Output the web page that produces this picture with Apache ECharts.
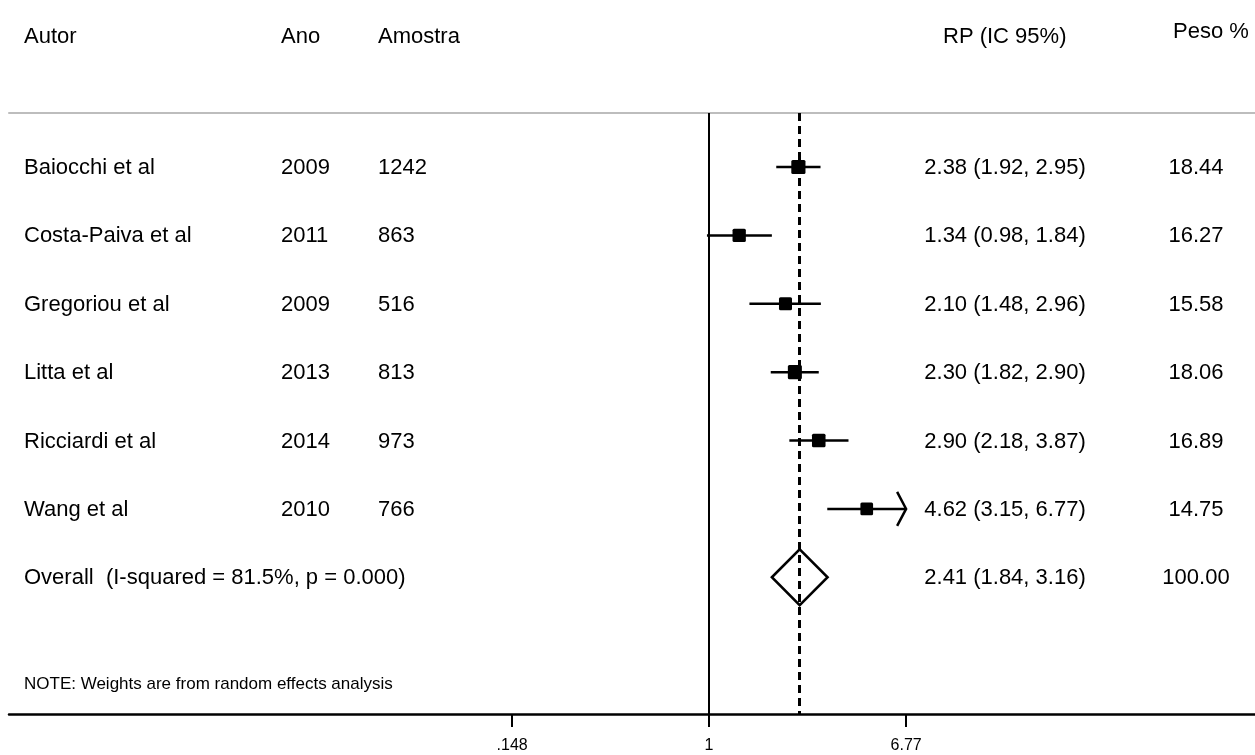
<!DOCTYPE html>
<html>
<head>
<meta charset="utf-8">
<script src="https://cdn.jsdelivr.net/npm/echarts@6/dist/echarts.min.js"></script>
<style>html,body{margin:0;padding:0;background:#fff}#c{width:1255px;height:755px}</style>
</head>
<body>
<div id="c"></div>
<script>
// ---- data ----
const authors = ['Baiocchi et al','Costa-Paiva et al','Gregoriou et al','Litta et al','Ricciardi et al','Wang et al'];
const years = ['2009','2011','2009','2013','2014','2010'];
const samples = ['1242','863','516','813','973','766'];
const rpEst = [2.38, 1.34, 2.10, 2.30, 2.90, 4.62];
const rpLow = [1.92, 0.98, 1.48, 1.82, 2.18, 3.15];
const rpHigh = [2.95, 1.84, 2.96, 2.90, 3.87, 6.77];
const weights = [18.44, 16.27, 15.58, 18.06, 16.89, 14.75];
const overallLabel = 'Overall  (I-squared = 81.5%, p = 0.000)';
const overallEst = 2.41, overallLow = 1.84, overallHigh = 3.16, overallWeight = 100.00;
const tickValues = [0.148, 1, 6.77];
const tickLabels = ['.148', '1', '6.77'];
const headers = ['Autor', 'Ano', 'Amostra', 'RP (IC 95%)', 'Peso %'];
const noteText = 'NOTE: Weights are from random effects analysis';

const FONT = "'Liberation Sans', Arial, Helvetica, sans-serif";
const ln = Math.log;
const fmt2 = v => v.toFixed(2);
const rpText = (e, l, h) => fmt2(e) + ' (' + fmt2(l) + ', ' + fmt2(h) + ')';
const maxTick = Math.max.apply(null, tickValues);

const studyData = rpEst.map((e, i) => [ln(rpLow[i]), ln(e), ln(Math.min(rpHigh[i], maxTick)), i, weights[i], rpHigh[i] >= maxTick ? 1 : 0]);
const overallRow = authors.length;
const overallData = [[ln(overallLow), ln(overallEst), ln(overallHigh), overallRow]];

const textRows = authors.map((a, i) => ({
  row: i, cols: [a, years[i], samples[i], rpText(rpEst[i], rpLow[i], rpHigh[i]), fmt2(weights[i])]
}));
textRows.push({row: overallRow, cols: [overallLabel, '', '', rpText(overallEst, overallLow, overallHigh), fmt2(overallWeight)]});

const chart = echarts.init(document.getElementById('c'), null, {renderer: 'canvas'});

const colX = [24, 281, 378, 1005, 1196];
const colAlign = ['left', 'left', 'left', 'center', 'center'];

const option = {
  animation: false,
  backgroundColor: '#fff',
  grid: {left: 9, right: 0, top: 113, bottom: 41, containLabel: false},
  xAxis: [{
    type: 'value', min: -6.793, max: 5.298, position: 'bottom',
    splitLine: {show: false},
    axisLine: {show: true, onZero: false, lineStyle: {color: '#000', width: 2.5}},
    axisTick: {show: true, length: 13, lineStyle: {color: '#000', width: 2}, customValues: tickValues.map(ln)},
    axisLabel: {show: true, color: '#000', fontFamily: FONT, fontSize: 16, margin: 24,
      customValues: tickValues.map(ln),
      formatter: v => { const k = tickValues.findIndex(t => Math.abs(ln(t) - v) < 1e-6); return k >= 0 ? tickLabels[k] : ''; }}
  }, {
    type: 'value', min: -6.793, max: 5.298, position: 'top',
    splitLine: {show: false}, axisTick: {show: false}, axisLabel: {show: false},
    axisLine: {show: true, onZero: false, lineStyle: {color: '#bdbdbd', width: 2}}
  }],
  yAxis: {type: 'value', inverse: true, min: -0.79, max: 8.0, show: false},
  graphic: [
    ...headers.map((h, k) => ({
      type: 'text', left: [24, 281, 378, 943, 1173][k], top: k === 4 ? 21 : 26,
      style: {text: h, font: '22px ' + FONT, fill: '#000'}
    })),
    {type: 'text', left: 24, top: 676, style: {text: noteText, font: '17px ' + FONT, fill: '#000'}}
  ],
  series: [{
    type: 'custom', name: 'studies', coordinateSystem: 'cartesian2d', clip: false,
    data: studyData,
    encode: {x: [0, 1, 2], y: 3},
    renderItem: (params, api) => {
      const r = api.value(3);
      const pL = api.coord([api.value(0), r]);
      const pE = api.coord([api.value(1), r]);
      const pH = api.coord([api.value(2), r]);
      const s = 3.3 * Math.sqrt(api.value(4));
      const children = [
        {type: 'line', shape: {x1: pL[0], y1: pL[1], x2: pH[0], y2: pH[1]}, style: {stroke: '#000', lineWidth: 2.5}},
        {type: 'rect', shape: {x: pE[0] - s / 2, y: pE[1] - s / 2, width: s, height: s, r: 1.5}, style: {fill: '#000'}}
      ];
      if (api.value(5)) {
        children.push({type: 'polyline', shape: {points: [[pH[0] - 9, pH[1] - 17], [pH[0], pH[1]], [pH[0] - 9, pH[1] + 17]]}, style: {stroke: '#000', lineWidth: 2.5, fill: 'none'}});
      }
      return {type: 'group', children};
    },
    markLine: {
      silent: true, symbol: 'none', label: {show: false}, animation: false,
      data: [
        {xAxis: ln(1), lineStyle: {color: '#000', width: 2, type: 'solid'}},
        {xAxis: ln(overallEst), lineStyle: {color: '#000', width: 3, type: [8, 5]}}
      ]
    }
  }, {
    type: 'custom', name: 'overall', coordinateSystem: 'cartesian2d', clip: false,
    data: overallData, encode: {x: [0, 1, 2], y: 3},
    renderItem: (params, api) => {
      const r = api.value(3);
      const pL = api.coord([api.value(0), r]);
      const pE = api.coord([api.value(1), r]);
      const pH = api.coord([api.value(2), r]);
      const hh = 28;
      return {type: 'polygon', shape: {points: [[pL[0], pL[1]], [pE[0], pE[1] - hh], [pH[0], pH[1]], [pE[0], pE[1] + hh]]},
        style: {stroke: '#000', lineWidth: 2.5, fill: 'none'}};
    }
  }, {
    type: 'custom', name: 'texts', coordinateSystem: 'cartesian2d', clip: false, silent: true,
    data: textRows.map(t => [0, t.row]), encode: {x: 0, y: 1},
    renderItem: (params, api) => {
      const y = api.coord([0, api.value(1)])[1];
      const row = textRows[params.dataIndex];
      return {type: 'group', children: row.cols.map((txt, k) => ({
        type: 'text', x: colX[k], y: y + 1,
        style: {text: txt, font: '22px ' + FONT, fill: '#000', textAlign: colAlign[k], textVerticalAlign: 'middle'}
      }))};
    }
  }]
};
chart.setOption(option);
</script>
</body>
</html>
